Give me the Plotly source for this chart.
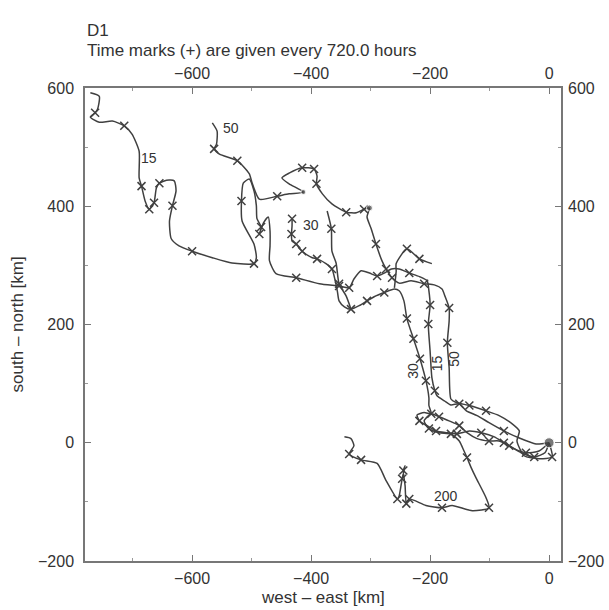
import plotly.graph_objects as go

# ---- data (km) ----
t15_x = [0, -22, -50, -76, -101, -121, -139, -151, -165, -176, -188, -192, -197, -200, -203, -200, -202, -205,
         -218, -235, -252, -265, -277, -289, -302, -316, -328, -336, -353, -386, -425, -459, -470, -469, -469,
         -472, -480, -487, -484, -491, -492, -496, -504, -514, -517, -516, -496, -492, -496, -533, -566, -600,
         -622, -635, -638, -633, -627, -630, -643, -655, -660, -664, -672, -679, -685, -689, -689, -701, -714,
         -734, -756, -771, -763, -759, -756, -771]
t15_y = [0, -2, 8, 20, 34, 46, 54, 66, 64, 71, 79, 88, 110, 155, 201, 233, 257, 274,
         281, 287, 294, 294, 287, 282, 287, 291, 277, 262, 265, 269, 279, 286, 308, 333, 358,
         382, 372, 353, 365, 379, 401, 426, 446, 439, 409, 375, 336, 313, 303, 304, 313, 324,
         333, 345, 375, 401, 426, 443, 444, 439, 431, 406, 395, 409, 434, 448, 493, 522, 536,
         544, 542, 551, 558, 564, 586, 592]
t15_mx = [-76, -151, -192, -203, -200, -235, -289, -336, -353, -425, -487, -484, -517, -496, -600, -633,
          -655, -664, -672, -685, -714, -763]
t15_my = [20, 66, 88, 201, 233, 287, 282, 262, 265, 279, 353, 365, 409, 303, 324, 401,
          439, 406, 395, 434, 536, 558]

t30_x = [0, -17, -39, -59, -76, -92, -114, -134, -155, -173, -190, -205, -218, -222, -210, -198, -202, -202,
         -207, -217, -228, -239, -244, -252, -260, -277, -294, -306, -319, -333, -344, -353, -356, -365,
         -375, -390, -398, -415, -425, -432, -433, -432, -432]
t30_y = [0, -14, -17, -10, 0, 10, 17, 20, 15, 17, 20, 29, 37, 47, 51, 49, 63, 76,
         105, 142, 176, 210, 240, 257, 260, 254, 247, 240, 232, 226, 230, 240, 257, 294,
         303, 311, 313, 324, 336, 341, 353, 367, 379]
t30_mx = [-39, -76, -114, -155, -190, -218, -198, -207, -217, -228, -239, -277, -306, -333, -365, -390,
          -415, -425, -433, -432]
t30_my = [-17, 0, 17, 15, 20, 37, 49, 105, 142, 176, 210, 254, 240, 226, 294, 311,
          324, 336, 353, 379]

t50_x = [0, 5, -17, -42, -54, -50, -62, -84, -106, -134, -156, -165, -168, -171, -168, -168, -175, -180,
         -193, -210, -232, -252, -264, -274, -281, -291, -299, -306, -302, -311, -324, -341, -365, -381,
         -391, -390, -395, -415, -437, -449, -437, -413, -437, -457, -487, -499, -504, -524, -554, -563,
         -559, -558, -566]
t50_y = [0, -24, -27, -22, 3, 20, 32, 46, 54, 63, 68, 74, 127, 169, 206, 228, 248, 260,
         267, 269, 274, 270, 279, 294, 308, 336, 362, 382, 397, 395, 389, 390, 404, 421,
         438, 451, 463, 465, 456, 448, 438, 424, 421, 417, 412, 439, 455, 477, 488, 497,
         505, 527, 541]
t50_mx = [5, -106, -134, -171, -168, -210, -264, -274, -291, -311, -341, -391, -395, -415, -457, -524, -563]
t50_my = [-24, 54, 63, 169, 228, 269, 279, 294, 336, 395, 390, 438, 463, 465, 417, 477, 497]

t200_x = [0, -7, -25, -47, -67, -84, -101, -121, -138, -151, -168, -185, -198, -210, -202, -185, -165,
          -151, -143, -138, -131, -123, -106, -101, -129, -163, -180, -207, -235, -240, -242, -245, -242,
          -247, -252, -255, -274, -289, -316, -336, -328, -333, -344]
t200_y = [0, -17, -24, -17, -5, 3, 3, 7, 17, 29, 37, 44, 49, 37, 24, 17, 15,
          3, -14, -25, -42, -59, -93, -110, -115, -106, -110, -106, -95, -103, -73, -47, -39,
          -61, -90, -95, -64, -35, -29, -19, -5, 7, 10]
t200_mx = [-25, -67, -101, -151, -185, -202, -165, -138, -101, -180, -235, -240, -245, -247, -255, -316, -336]
t200_my = [-24, -5, 3, 29, 44, 24, 15, -25, -110, -110, -95, -103, -47, -61, -95, -29, -19]

ext1_x = [-373, -366, -365, -358, -353, -341, -333]
ext1_y = [392, 362, 324, 304, 269, 248, 226]
ext1_mx = [-366, -353]
ext1_my = [362, 269]

ext2_x = [-260, -257, -257, -239, -218, -197]
ext2_y = [262, 290, 303, 328, 311, 303]
ext2_mx = [-239, -218]
ext2_my = [328, 311]

dots_x = [0, -413, -302]
dots_y = [0, 424, 397]
dots_size = [10, 5, 6]

label_text = ["15", "50", "30", "200", "30", "15", "50"]
label_x = [-672, -534, -400, -173, -230, -188, -160]
label_y = [482, 532, 368, -90, 122, 135, 142]
label_angle = [0, 0, 0, 0, -90, -90, -90]

# ---- figure ----
INK = "#404040"
TXT = "#333333"
FONT = "Liberation Sans, Arial, Helvetica, sans-serif"

fig = go.Figure()
paths = [(t15_x, t15_y, t15_mx, t15_my), (t30_x, t30_y, t30_mx, t30_my),
         (t50_x, t50_y, t50_mx, t50_my), (t200_x, t200_y, t200_mx, t200_my),
         (ext1_x, ext1_y, ext1_mx, ext1_my), (ext2_x, ext2_y, ext2_mx, ext2_my)]
for px, py, mx, my in paths:
    fig.add_trace(go.Scatter(x=px, y=py, mode="lines",
                             line=dict(color=INK, width=1.5, shape="spline", smoothing=0.6),
                             hoverinfo="skip", showlegend=False))
    fig.add_trace(go.Scatter(x=mx, y=my, mode="markers",
                             marker=dict(symbol="x-thin", size=8, line=dict(color=INK, width=1.5)),
                             hoverinfo="skip", showlegend=False))
fig.add_trace(go.Scatter(x=dots_x, y=dots_y, mode="markers",
                         marker=dict(symbol="circle", size=dots_size, color=INK),
                         hoverinfo="skip", showlegend=False))
# invisible trace for top/right axes
fig.add_trace(go.Scatter(x=[None], y=[None], xaxis="x2", yaxis="y2", showlegend=False, hoverinfo="skip"))

for t, x, y, a in zip(label_text, label_x, label_y, label_angle):
    fig.add_annotation(x=x, y=y, text=t, showarrow=False, textangle=a,
                       font=dict(family=FONT, size=14, color=TXT))

axis_common = dict(showgrid=False, zeroline=False, automargin=False,
                   tickfont=dict(family=FONT, size=16, color=TXT))
xr = [-780, 20]
yr = [-200, 600]
fig.update_layout(
    width=609, height=610,
    margin=dict(l=85, r=48, t=88, b=49, autoexpand=False),
    paper_bgcolor="white", plot_bgcolor="white",
    xaxis=dict(range=xr, tick0=0, dtick=200, ticks="inside", ticklen=6, tickwidth=1.2,
               tickcolor="#777", showline=True, linecolor="#777", linewidth=1.5, mirror="ticks",
               minor=dict(dtick=100, ticks="inside", ticklen=3, tickcolor="#999"),
               ticklabelstandoff=2, **axis_common),
    yaxis=dict(range=yr, tick0=0, dtick=200, ticks="inside", ticklen=6, tickwidth=1.2,
               tickcolor="#777", showline=True, linecolor="#777", linewidth=1.5, mirror="ticks",
               minor=dict(dtick=100, ticks="inside", ticklen=3, tickcolor="#999"),
               ticklabelstandoff=6, **axis_common),
    xaxis2=dict(range=xr, overlaying="x", side="top", tick0=0, dtick=200, ticks="",
                showline=False, ticklabelstandoff=5, **axis_common),
    yaxis2=dict(range=yr, overlaying="y", side="right", tick0=0, dtick=200, ticks="",
                showline=False, ticklabelstandoff=6, **axis_common),
)
fig.add_annotation(xref="paper", yref="paper", x=0, y=1.1226, xanchor="left", yanchor="middle",
                   text="D1", showarrow=False, font=dict(family=FONT, size=17, color=TXT))
fig.add_annotation(xref="paper", yref="paper", x=0, y=1.080, xanchor="left", yanchor="middle",
                   text="Time marks (+) are given every 720.0 hours", showarrow=False,
                   font=dict(family=FONT, size=17, color=TXT))
fig.add_annotation(xref="paper", yref="paper", x=0.5, y=-0.078, xanchor="center", yanchor="middle",
                   text="west \u2013 east [km]", showarrow=False, font=dict(family=FONT, size=17, color=TXT))
fig.add_annotation(xref="paper", yref="paper", x=-0.141, y=0.5, xanchor="center", yanchor="middle",
                   text="south \u2013 north [km]", textangle=-90, showarrow=False,
                   font=dict(family=FONT, size=17, color=TXT))

fig.write_html("out.html")
